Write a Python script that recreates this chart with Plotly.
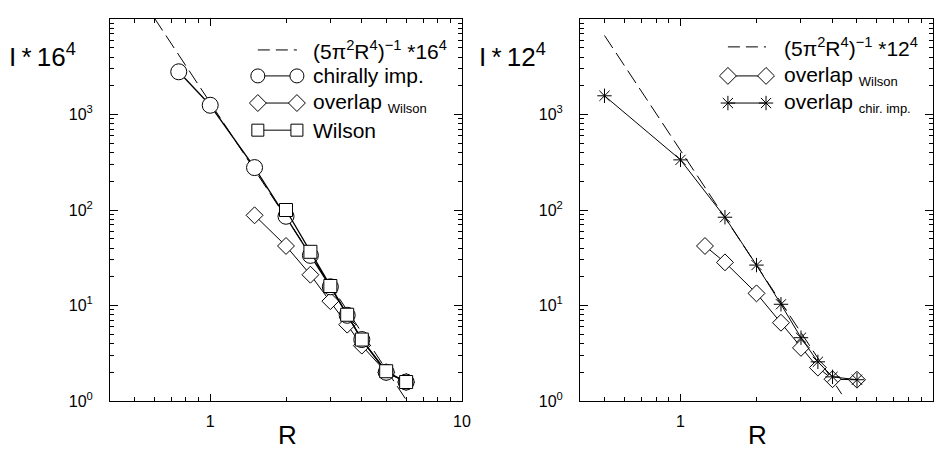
import plotly.graph_objects as go

# ---------------- data ----------------
# left panel (16^4 lattice)
L_R_fit = [0.6, 6.0]
L_fit = [10250, 1.03]
L_R_circ = [0.75, 1, 1.5, 2, 2.5, 3, 3.5, 4, 5, 6]
L_circ = [2800, 1250, 278, 86, 33.5, 15.7, 7.9, 4.4, 2.0, 1.58]
L_R_dia = [1.5, 2, 2.5, 3, 3.5, 4, 5, 6]
L_dia = [88, 42, 21, 11.1, 6.3, 3.8, 2.0, 1.58]
L_R_sq = [2, 2.5, 3, 3.5, 4, 5, 6]
L_sq = [100, 36.5, 16, 8.0, 4.4, 2.05, 1.58]

# right panel (12^4 lattice)
R_R_fit = [0.5, 4.35]
R_fit = [6720, 1.18]
R_R_dia = [1.25, 1.5, 2, 2.5, 3, 3.5, 4, 5]
R_dia = [42, 28.3, 13.4, 6.6, 3.6, 2.24, 1.69, 1.67]
R_R_star = [0.5, 1, 1.5, 2, 2.5, 3, 3.5, 4, 5]
R_star = [1570, 335, 84, 26.5, 10.3, 4.6, 2.57, 1.79, 1.67]

x_major = [1, 10]
x_major_text = ["1", "10"]
y_major = [1, 10, 100, 1000, 10000]
y_major_text = ["10<sup>0</sup>", "10<sup>1</sup>", "10<sup>2</sup>", "10<sup>3</sup>", "10<sup>4</sup>"]

SUB = "<sub><span style='font-size:13px'>{}</span></sub>"
left_legend = ["(5\u03c0<sup>2</sup>R<sup>4</sup>)<sup>\u22121</sup> *16<sup>4</sup>",
               "chirally imp.", "overlap " + SUB.format("Wilson"), "Wilson"]
right_legend = ["(5\u03c0<sup>2</sup>R<sup>4</sup>)<sup>\u22121</sup> *12<sup>4</sup>",
                "overlap " + SUB.format("Wilson"),
                "overlap " + SUB.format("chir. imp.")]

# ---------------- styling ----------------
FONT = "Liberation Sans, Arial, Helvetica, sans-serif"
OFF = 8            # default body margin of the written page
W, H = 943 - 2 * OFF, 459 - 2 * OFF
BLACK = "black"

def px_x(p):
    return (p - OFF) / W

def px_y(p):
    return 1 - (p - OFF) / H

LDOM = [px_x(110), px_x(462)]
RDOM = [px_x(580), px_x(933)]
YDOM = [px_y(401), px_y(19)]

x_minor = [0.4, 0.5, 0.6, 0.7, 0.8, 0.9, 2, 3, 4, 5, 6, 7, 8, 9]
y_minor = [m * 10 ** e for e in range(4) for m in range(2, 10)]

circ_m = dict(symbol="circle", size=16, color="white", line=dict(color=BLACK, width=1))
dia_m = dict(symbol="diamond", size=13, color="white", line=dict(color=BLACK, width=1))
sq_m = dict(symbol="square", size=13, color="white", line=dict(color=BLACK, width=1))
star_m = dict(symbol="asterisk-open", size=12, color=BLACK, line=dict(color=BLACK, width=1))
line_s = dict(color=BLACK, width=1)
dash_s = dict(color=BLACK, width=1, dash="15px,6px")

fig = go.Figure()

# left panel
fig.add_trace(go.Scatter(x=L_R_fit, y=L_fit, mode="lines", line=dash_s, xaxis="x", yaxis="y"))
fig.add_trace(go.Scatter(x=L_R_dia, y=L_dia, mode="lines+markers", line=line_s, marker=dia_m, xaxis="x", yaxis="y"))
fig.add_trace(go.Scatter(x=L_R_circ, y=L_circ, mode="lines+markers", line=dict(color=BLACK, width=1.3), marker=circ_m, xaxis="x", yaxis="y"))
fig.add_trace(go.Scatter(x=L_R_sq, y=L_sq, mode="lines+markers", line=dict(color=BLACK, width=1.3), marker=sq_m, xaxis="x", yaxis="y"))

# right panel
fig.add_trace(go.Scatter(x=R_R_fit, y=R_fit, mode="lines", line=dash_s, xaxis="x2", yaxis="y2"))
fig.add_trace(go.Scatter(x=R_R_dia, y=R_dia, mode="lines+markers", line=line_s, marker=dia_m, xaxis="x2", yaxis="y2"))
fig.add_trace(go.Scatter(x=R_R_star, y=R_star, mode="lines+markers", line=line_s, marker=star_m, xaxis="x2", yaxis="y2"))

# ---------------- hand-drawn legends (overlay axes in [0,1]) ----------------
def legend(xa, ya, rows, markers, sx0, sx1):
    for yy, m in zip(rows, markers):
        if m is None:
            fig.add_trace(go.Scatter(x=[sx0, sx1], y=[yy, yy], mode="lines",
                                     line=dict(dash_s, dash="12px,6px"),
                                     xaxis=xa, yaxis=ya, hoverinfo="skip"))
        else:
            fig.add_trace(go.Scatter(x=[sx0, sx1], y=[yy, yy], mode="lines+markers", line=line_s,
                                     marker=m, xaxis=xa, yaxis=ya, hoverinfo="skip"))

L_rows = [0.919, 0.851, 0.780, 0.709]
R_rows = [0.927, 0.851, 0.780]
circ_leg = dict(circ_m, size=14)
sq_leg = dict(sq_m, size=12)
dia_leg = dict(dia_m, size=13)
legend("x3", "y3", L_rows, [None, circ_leg, dia_leg, sq_leg], 0.42, 0.531)
legend("x4", "y4", R_rows, [None, dia_leg, star_m], 0.419, 0.527)

LEG_FONT = dict(size=21, family=FONT, color=BLACK)
annotations = []
for yy, txt in zip(L_rows, left_legend):
    annotations.append(dict(x=0.572, y=yy, xref="x3", yref="y3", text=txt, showarrow=False,
                            xanchor="left", yanchor="middle", font=LEG_FONT))
for yy, txt in zip(R_rows, right_legend):
    annotations.append(dict(x=0.571, y=yy, xref="x4", yref="y4", text=txt, showarrow=False,
                            xanchor="left", yanchor="middle", font=LEG_FONT))

# axis titles
TITLE_FONT = dict(size=26, family=FONT, color=BLACK)
annotations += [
    dict(x=px_x(287), y=0, xref="paper", yref="paper", text="R", showarrow=False,
         xanchor="center", yanchor="bottom", borderpad=0, font=TITLE_FONT),
    dict(x=px_x(757), y=0, xref="paper", yref="paper", text="R", showarrow=False,
         xanchor="center", yanchor="bottom", borderpad=0, font=TITLE_FONT),
    dict(x=px_x(7), y=px_y(56), xref="paper", yref="paper", text="I\u2009*\u200916<sup>4</sup>",
         showarrow=False, xanchor="left", yanchor="middle", font=TITLE_FONT),
    dict(x=px_x(477), y=px_y(56), xref="paper", yref="paper", text="I\u2009*\u200912<sup>4</sup>",
         showarrow=False, xanchor="left", yanchor="middle", font=TITLE_FONT),
]

TICK_FONT = dict(size=16, family=FONT, color=BLACK)

def xaxis(dom, anchor):
    return dict(type="log", domain=dom, anchor=anchor, range=[-0.398, 1.0],
                tickmode="array", tickvals=x_major, ticktext=x_major_text,
                ticks="inside", ticklen=7, tickwidth=1, tickcolor=BLACK,
                minor=dict(tickmode="array", tickvals=x_minor, ticks="inside", ticklen=4,
                           tickwidth=1, tickcolor=BLACK, showgrid=False),
                showline=True, linecolor=BLACK, linewidth=1, mirror="allticks",
                showgrid=False, zeroline=False, ticklabelstandoff=6,
                tickfont=TICK_FONT)

def yaxis(anchor):
    return dict(type="log", domain=YDOM, anchor=anchor, range=[0, 4],
                tickmode="array", tickvals=y_major, ticktext=y_major_text,
                ticks="inside", ticklen=8, tickwidth=1, tickcolor=BLACK,
                minor=dict(tickmode="array", tickvals=y_minor, ticks="inside", ticklen=4,
                           tickwidth=1, tickcolor=BLACK, showgrid=False),
                showline=True, linecolor=BLACK, linewidth=1, mirror="allticks",
                showgrid=False, zeroline=False, ticklabelstandoff=13,
                tickfont=TICK_FONT)

hidden = dict(visible=False, range=[0, 1], fixedrange=True)

fig.update_layout(
    width=W, height=H,
    margin=dict(l=0, r=0, t=0, b=0, pad=0, autoexpand=False),
    paper_bgcolor="white", plot_bgcolor="white",
    showlegend=False,
    font=dict(family=FONT, color=BLACK),
    xaxis=xaxis(LDOM, "y"),
    yaxis=yaxis("x"),
    xaxis2=xaxis(RDOM, "y2"),
    yaxis2=yaxis("x2"),
    xaxis3=dict(hidden, overlaying="x"),
    yaxis3=dict(hidden, overlaying="y"),
    xaxis4=dict(hidden, overlaying="x2"),
    yaxis4=dict(hidden, overlaying="y2"),
    annotations=annotations,
)

fig.write_html("out.html")
